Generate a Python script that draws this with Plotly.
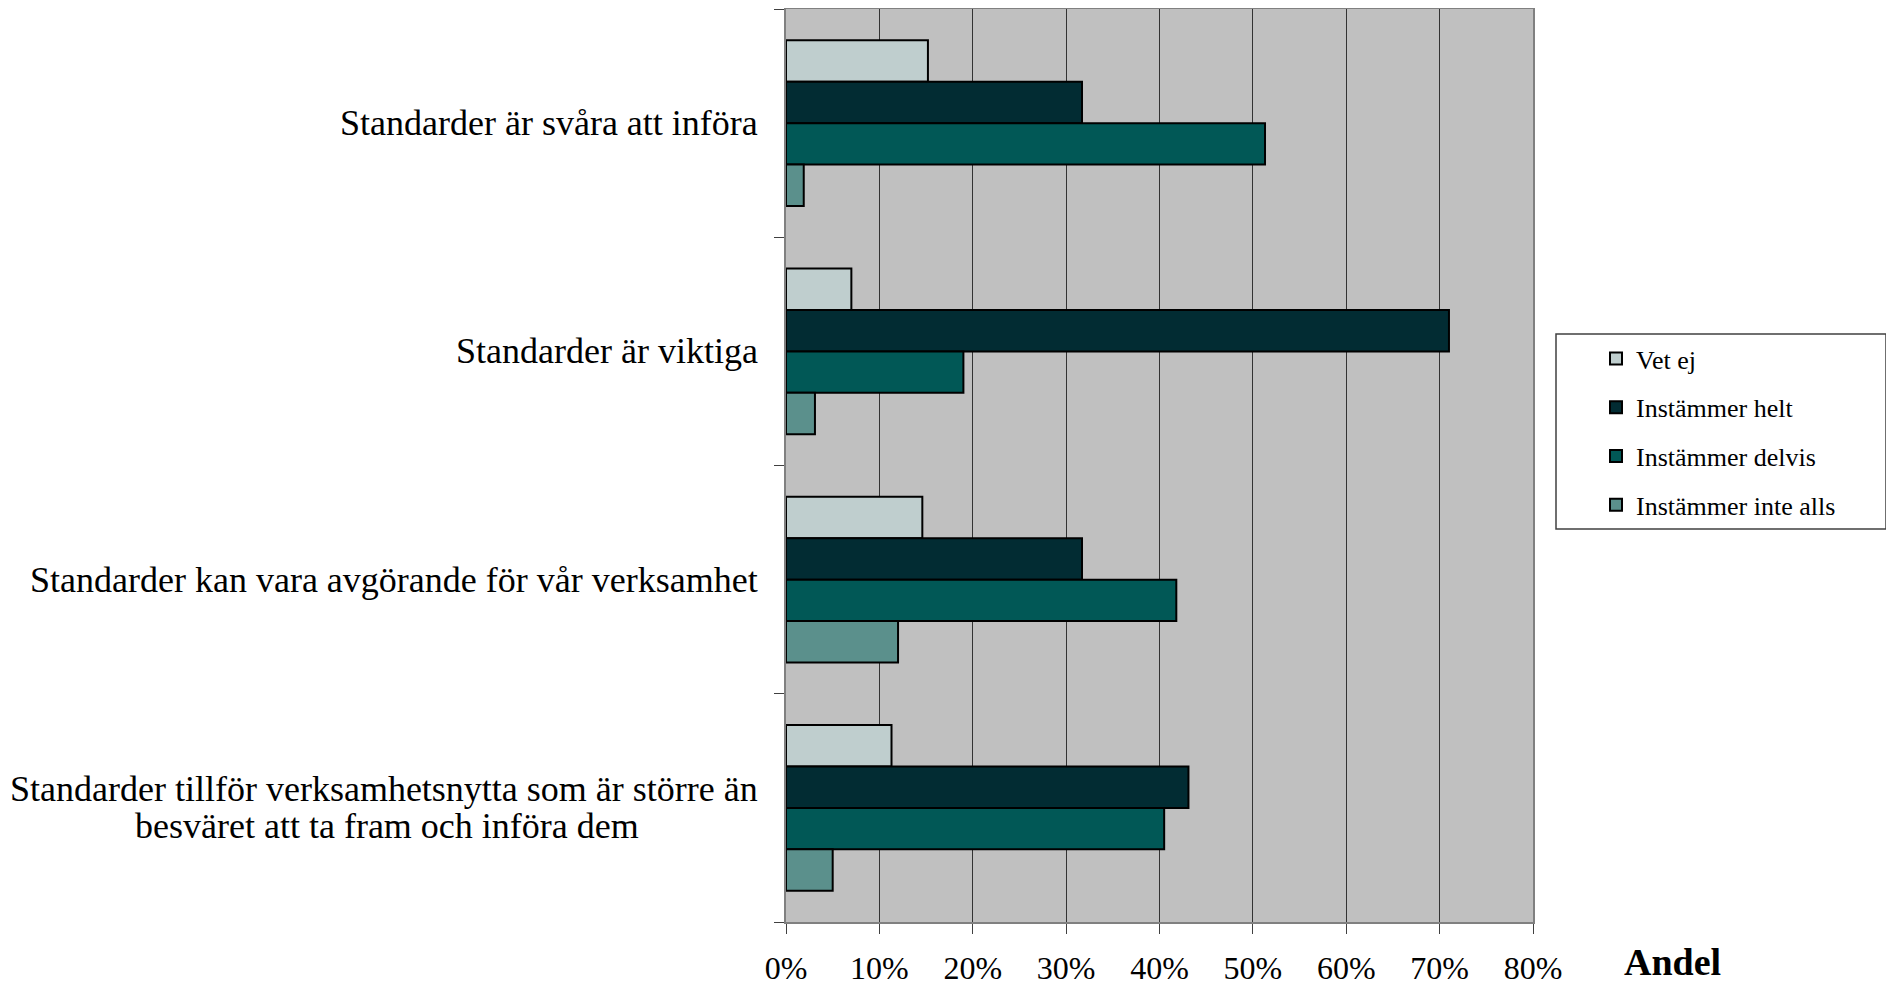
import plotly.graph_objects as go

categories = [
    "Standarder är svåra att införa",
    "Standarder är viktiga",
    "Standarder kan vara avgörande för vår verksamhet",
    "Standarder tillför verksamhetsnytta som är större än\nbesväret att ta fram och införa dem",
]
series_names = ["Vet ej", "Instämmer helt", "Instämmer delvis", "Instämmer inte alls"]
vet_ej = [15.2, 7.0, 14.6, 11.3]
instammer_helt = [31.7, 71.0, 31.7, 43.1]
instammer_delvis = [51.3, 19.0, 41.8, 40.5]
instammer_inte_alls = [1.9, 3.1, 12.0, 5.0]
series_values = [vet_ej, instammer_helt, instammer_delvis, instammer_inte_alls]
colors = ["#BFCECE", "#022C33", "#015856", "#5B908C"]
x_ticks = [0, 10, 20, 30, 40, 50, 60, 70, 80]
x_title = "Andel"

FONT = "Liberation Serif"
idx = list(range(len(categories)))

# figure geometry (page has an 8px body margin)
W, H = 1886, 977
L, R, T, B = 778, 361, 1, 63
PW = W - L - R
PH = H - T - B


def px_x(x):
    return (x - L) / PW


def px_y(y):
    return (H - B - y) / PH


fig = go.Figure()
for name, vals, col in zip(series_names, series_values, colors):
    fig.add_trace(go.Bar(
        y=idx, x=vals, name=name, orientation="h",
        marker=dict(color=col, line=dict(color="#000000", width=2)),
        legendgroup=name,
    ))

annotations = []
line_gap = 37
label_pad = 26
wrapped_center_shift = -399  # centre of wrapped label block relative to plot's left edge
for i, cat in enumerate(categories):
    lines = cat.split("\n")
    n = len(lines)
    for j, ln in enumerate(lines):
        shift = ((n - 1) / 2 - j) * line_gap
        if n == 1 or j == 0:
            anchor, xs = "right", -label_pad
        else:
            anchor, xs = "center", wrapped_center_shift
        annotations.append(dict(
            x=0, xref="paper", y=i, yref="y", text=ln, showarrow=False,
            xanchor=anchor, yanchor="middle", xshift=xs, yshift=shift,
            font=dict(family=FONT, size=36, color="#000000"),
        ))
annotations.append(dict(
    x=px_x(1664), xref="paper", y=0, yref="paper", text="<b>" + x_title + "</b>",
    showarrow=False, xanchor="center", yanchor="top", yshift=-17,
    font=dict(family=FONT, size=38, color="#000000"),
))

fig.update_layout(
    width=W, height=H,
    margin=dict(l=L, r=R, t=T, b=B, autoexpand=False),
    paper_bgcolor="#FFFFFF", plot_bgcolor="#C0C0C0",
    barmode="group", bargap=0.274, bargroupgap=0,
    showlegend=True,
    legend=dict(
        x=px_x(1588), y=px_y(327), xanchor="left", yanchor="top",
        bgcolor="rgba(0,0,0,0)", borderwidth=0,
        font=dict(family=FONT, size=26, color="#000000"),
        traceorder="grouped", tracegroupgap=12,
    ),
    shapes=[dict(
        type="rect", xref="paper", yref="paper",
        x0=px_x(1548), x1=px_x(1878),
        y0=px_y(521), y1=px_y(326),
        line=dict(color="#404040", width=1.5), fillcolor="rgba(0,0,0,0)",
    )],
    annotations=annotations,
    font=dict(family=FONT, color="#000000"),
)
fig.update_xaxes(
    range=[0, 80], tickvals=x_ticks, ticktext=[f"{t}%" for t in x_ticks],
    showgrid=True, gridcolor="#333333", gridwidth=1,
    showline=True, linecolor="#808080", linewidth=2, mirror=True,
    ticks="outside", ticklen=10, tickcolor="#404040", tickwidth=1,
    tickfont=dict(family=FONT, size=32, color="#000000"),
    ticklabelstandoff=7, zeroline=False, automargin=False,
)
fig.update_yaxes(
    type="linear", range=[len(categories) - 0.5, -0.5],
    tickvals=[i - 0.5 for i in range(len(categories) + 1)],
    showticklabels=False, showgrid=False, zeroline=False,
    showline=True, linecolor="#808080", linewidth=2, mirror=True,
    ticks="outside", ticklen=10, tickcolor="#404040", tickwidth=1,
    automargin=False,
)

fig.write_html("out.html")
